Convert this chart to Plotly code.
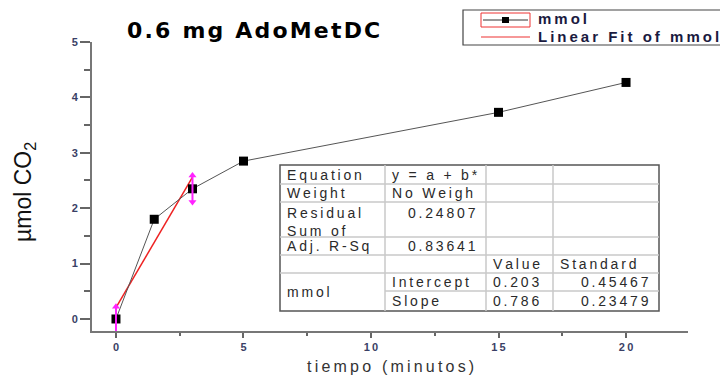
import plotly.graph_objects as go

# ---- data ----
tiempo = [0, 1.5, 3, 5, 15, 20]
mmol = [0.0, 1.8, 2.35, 2.85, 3.73, 4.27]
fit_x = [0, 3]
intercept = 0.203
slope = 0.786
err_x = [0, 3]
err_center = [0.0, 2.35]
err_size = [0.22, 0.24]

x_ticks = [0, 5, 10, 15, 20]
y_ticks = [0, 1, 2, 3, 4, 5]
x_ticklabels = ["0", "5", "10", "15", "20"]
y_ticklabels = ["0", "1", "2", "3", "4", "5"]

table_rows = [
    ["Equation", "y = a + b*", "", ""],
    ["Weight", "No Weigh", "", ""],
    ["Residual<br>Sum of", "0.24807", "", ""],
    ["Adj. R-Sq", "0.83641", "", ""],
    ["", "", "Value", "Standard"],
    ["mmol", "Intercept", "0.203", "0.45467"],
    ["", "Slope", "0.786", "0.23479"],
]

THIN = "\u2009"
HAIR = "\u200a"


def spaced(s, sp=THIN):
    parts = s.split("<br>")
    return "<br>".join(sp.join(list(p)) for p in parts)


OFF = 8  # body margin of the page
W, H = 728 - OFF, 375 - OFF
# plot area in screen pixels
SX0, SX1, SY0, SY1 = 92, 688, 42, 331
L, T = SX0 - OFF, SY0 - OFF
R, B = W - (SX1 - OFF), H - (SY1 - OFF)
pw, ph = SX1 - SX0, SY1 - SY0


def px(xp):
    return (xp - SX0) / pw


def py(yp):
    return 1 - (yp - SY0) / ph


fig = go.Figure()

fit_y = [intercept + slope * v for v in fit_x]
fig.add_trace(go.Scatter(x=fit_x, y=fit_y, mode="lines",
                         line=dict(color="#ee2222", width=1.5), showlegend=False))

fig.add_trace(go.Scatter(x=tiempo, y=mmol, mode="lines+markers",
                         line=dict(color="#555555", width=1),
                         marker=dict(symbol="square", size=9, color="black"),
                         showlegend=False))

ex, ey, es = [], [], []
for x0, c, e in zip(err_x, err_center, err_size):
    ex += [x0, x0, None]
    ey += [c + e, c - e, None]
    es += ["triangle-up", "triangle-down", "circle"]
fig.add_trace(go.Scatter(x=ex, y=ey, mode="lines+markers",
                         line=dict(color="#ff22ff", width=2),
                         marker=dict(symbol=es, size=7, color="#ff22ff"),
                         showlegend=False, cliponaxis=False))

shapes = []
annotations = []

# Table
tx = [280, 385, 486, 553, 659]
ty = [165, 184, 202, 237, 255, 273, 291, 311]
shapes.append(dict(type="rect", xref="paper", yref="paper",
                   x0=px(tx[0]), x1=px(tx[4]), y0=py(ty[0]), y1=py(ty[-1]),
                   line=dict(color="#555555", width=1.5), fillcolor="white", layer="above"))
for xv in tx[1:4]:
    shapes.append(dict(type="line", xref="paper", yref="paper",
                       x0=px(xv), x1=px(xv), y0=py(ty[0]), y1=py(ty[-1]),
                       line=dict(color="#c8c8c8", width=1.5), layer="above"))
for yv in ty[1:-1]:
    x_start = tx[1] if yv == 291 else tx[0]
    shapes.append(dict(type="line", xref="paper", yref="paper",
                       x0=px(x_start), x1=px(tx[4]), y0=py(yv), y1=py(yv),
                       line=dict(color="#c8c8c8", width=1.5), layer="above"))

cell_font = dict(family="Liberation Sans, Arial", size=14, color="#2a2a2a")
for ri, row in enumerate(table_rows):
    y_top, y_bot = ty[ri], ty[ri + 1]
    for ci, txt in enumerate(row):
        if not txt:
            continue
        if ri == 5 and ci == 0:
            ymid = (ty[5] + ty[7]) / 2
        else:
            ymid = (y_top + y_bot) / 2
        yanchor = "middle"
        if ri == 2:
            ymid = y_top + 1
            yanchor = "top"
        right = (ci == 1 and ri in (2, 3)) or (ci == 3 and ri in (5, 6))
        if right:
            xa, xanchor = tx[ci + 1] - 8, "right"
        else:
            xa, xanchor = tx[ci] + 5, "left"
        annotations.append(dict(text=spaced(txt), xref="paper", yref="paper",
                                x=px(xa), y=py(ymid), xanchor=xanchor, yanchor=yanchor,
                                showarrow=False, font=cell_font, align="left"))

# Legend box
shapes.append(dict(type="rect", xref="paper", yref="paper",
                   x0=px(463), x1=px(727), y0=py(10), y1=py(45),
                   line=dict(color="#444444", width=1.2), fillcolor="white"))
shapes.append(dict(type="rect", xref="paper", yref="paper",
                   x0=px(481), x1=px(530), y0=py(13), y1=py(27),
                   line=dict(color="#ee3333", width=1)))
shapes.append(dict(type="line", xref="paper", yref="paper",
                   x0=px(483), x1=px(528), y0=py(20), y1=py(20),
                   line=dict(color="#333333", width=1)))
shapes.append(dict(type="rect", xref="paper", yref="paper",
                   x0=px(502), x1=px(509), y0=py(17), y1=py(23),
                   line=dict(color="black", width=0), fillcolor="black"))
shapes.append(dict(type="line", xref="paper", yref="paper",
                   x0=px(481), x1=px(530), y0=py(37), y1=py(37),
                   line=dict(color="#ee3333", width=1.2)))
leg_font = dict(family="Liberation Sans, Arial", size=15, color="#1a1a40")
annotations.append(dict(text="<b>" + spaced("mmol") + "</b>", xref="paper", yref="paper",
                        x=px(536), y=py(19), xanchor="left", yanchor="middle",
                        showarrow=False, font=leg_font))
annotations.append(dict(text="<b>" + spaced("Linear Fit of mmol") + "</b>",
                        xref="paper", yref="paper",
                        x=px(536), y=py(37), xanchor="left", yanchor="middle",
                        showarrow=False, font=leg_font))

# Title
annotations.append(dict(text="<b>" + spaced("0.6 mg AdoMetDC", HAIR) + "</b>",
                        xref="paper", yref="paper",
                        x=px(253), y=py(30), xanchor="center", yanchor="middle",
                        showarrow=False,
                        font=dict(family="DejaVu Sans", size=22, color="black")))

# Axis titles
annotations.append(dict(text="µmol CO<sub>2</sub>", xref="paper", yref="paper",
                        x=px(24), y=py(192), xanchor="center", yanchor="middle",
                        textangle=-90, showarrow=False,
                        font=dict(family="Liberation Sans, Arial", size=23, color="#111111")))
annotations.append(dict(text=spaced("tiempo (minutos)"), xref="paper", yref="paper",
                        x=px(390), y=py(366), xanchor="center", yanchor="middle",
                        showarrow=False,
                        font=dict(family="Liberation Sans, Arial", size=16, color="#333333")))

tick_font = dict(family="Liberation Sans, Arial", size=11, color="#3a3f66")
fig.update_layout(
    width=W, height=H,
    margin=dict(l=L, r=R, t=T, b=B, autoexpand=False),
    paper_bgcolor="white", plot_bgcolor="white",
    shapes=shapes, annotations=annotations,
    showlegend=False,
    xaxis=dict(range=[-0.94, 22.43], tickvals=x_ticks,
               ticktext=["<b>" + spaced(t) + "</b>" for t in x_ticklabels],
               ticks="outside", ticklen=5,
               tickcolor="#666666", tickwidth=1.5,
               minor=dict(dtick=2.5, tick0=0, ticks="outside", ticklen=3, tickcolor="#666666"),
               showline=True, linecolor="#777777", linewidth=2, showgrid=False,
               zeroline=False, tickfont=tick_font),
    yaxis=dict(range=[-0.217, 5.0], tickvals=y_ticks,
               ticktext=["<b>" + t + "</b>" for t in y_ticklabels],
               ticks="outside", ticklen=10,
               tickcolor="#666666", tickwidth=1.5,
               minor=dict(dtick=0.5, tick0=0, ticks="outside", ticklen=6, tickcolor="#666666"),
               showline=True, linecolor="#777777", linewidth=2, showgrid=False,
               zeroline=False, tickfont=tick_font),
)

fig.write_html("out.html")
